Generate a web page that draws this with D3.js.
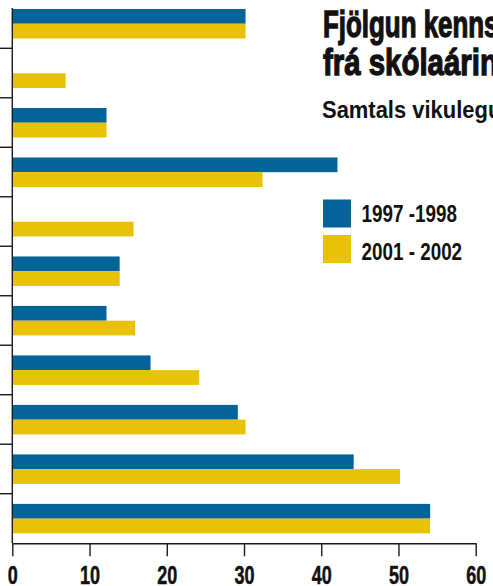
<!DOCTYPE html>
<html>
<head>
<meta charset="utf-8">
<script src="https://cdn.jsdelivr.net/npm/d3@7"></script>
<style>
  html, body { margin: 0; padding: 0; background: #fff; overflow: hidden; }
  svg { display: block; }
  text { font-family: "Liberation Sans", Arial, sans-serif; font-weight: bold; fill: #111; }
</style>
</head>
<body>
<div id="chart"></div>
<script>
/* data (category names are cut off in the original) */
var categories = ["1", "2", "3", "4", "5", "6", "7", "8", "9", "10", "11"];
var values_9798 = [30.2, null, 12.2, 42.1, null, 13.9, 12.2, 17.9, 29.2, 44.2, 54.1];
var values_0102 = [30.2, 6.9, 12.2, 32.4, 15.7, 13.9, 15.9, 24.2, 30.2, 50.2, 54.1];
var series_names = ["1997 -1998", "2001 - 2002"];
var x_ticks = [0, 10, 20, 30, 40, 50, 60];

var W = 493, H = 586;
var blue = "#04649a", yellow = "#e8c207";

var svg = d3.select("#chart").append("svg")
	.attr("width", W)
	.attr("height", H);

var x = d3.scaleLinear().domain([0, 60]).range([12.3, 475.7]);
var y = d3.scaleBand().domain(categories).range([-1.2, 543.2]).padding(0);
var bw = y.bandwidth();
var ySub = d3.scaleBand().domain(["a", "b"]).range([bw * 0.206, bw * 0.802]).padding(0);

/* rows: one entry per category and series */
var rows = [];
for (var i = 0; i < categories.length; i++) {
	if (values_9798[i] != null) rows.push({cat: categories[i], s: "a", v: values_9798[i]});
	if (values_0102[i] != null) rows.push({cat: categories[i], s: "b", v: values_0102[i]});
}

svg.selectAll("rect.bar")
	.data(rows)
	.enter()
	.append("rect")
	.attr("class", "bar")
	.attr("x", x(0))
	.attr("y", function(d) { return y(d.cat) + ySub(d.s); })
	.attr("width", function(d) { return x(d.v) - x(0); })
	.attr("height", ySub.bandwidth())
	.attr("fill", function(d) { return d.s == "a" ? blue : yellow; });

/* left axis line with separators between categories */
svg.append("line")
	.attr("x1", x(0)).attr("x2", x(0))
	.attr("y1", 8).attr("y2", 543.3)
	.attr("stroke", "#1a1a1a").attr("stroke-width", 1.4);

svg.selectAll("line.sep")
	.data(categories.slice(1))
	.enter()
	.append("line")
	.attr("class", "sep")
	.attr("x1", 0).attr("x2", x(0))
	.attr("y1", function(d) { return y(d); })
	.attr("y2", function(d) { return y(d); })
	.attr("stroke", "#1a1a1a").attr("stroke-width", 1.4);

/* bottom axis */
var xAxis = svg.append("g")
	.attr("transform", "translate(0,543.3)")
	.call(d3.axisBottom(x).tickValues(x_ticks).tickSize(13).tickSizeOuter(0));
xAxis.select(".domain").attr("stroke", "#1a1a1a").attr("stroke-width", 1.4);
xAxis.selectAll(".tick line").attr("stroke", "#1a1a1a").attr("stroke-width", 1.4);
xAxis.selectAll(".tick text")
	.attr("y", 41.2)
	.attr("dy", 0)
	.attr("transform", "scale(0.72,1)")
	.style("font-size", "25px")
	.style("font-family", "'Liberation Sans', Arial, sans-serif")
	.style("font-weight", "bold")
	.attr("fill", "#111")
	.attr("stroke", "#111").attr("stroke-width", 0.5);

/* title (clipped at the right edge as in the original) */
svg.append("text")
	.attr("transform", "translate(323,36.5) scale(0.70,1)")
	.style("font-size", "37px")
	.attr("stroke", "#111").attr("stroke-width", 1.3)
	.text("Fjölgun kennslustunda");
svg.append("text")
	.attr("transform", "translate(323,74.5) scale(0.795,1)")
	.style("font-size", "37px")
	.attr("stroke", "#111").attr("stroke-width", 1.3)
	.text("frá skólaárinu 1997-1998");
svg.append("text")
	.attr("transform", "translate(322,118.3) scale(0.955,1)")
	.style("font-size", "23px")
	.text("Samtals vikulegur kennslustundafjöldi");

/* legend */
var legend = svg.selectAll("g.legend")
	.data(series_names)
	.enter()
	.append("g")
	.attr("class", "legend")
	.attr("transform", function(d, i) { return "translate(323," + (199.5 + i * 35.5) + ")"; });
legend.append("rect")
	.attr("width", 28).attr("height", 28)
	.attr("fill", function(d, i) { return i == 0 ? blue : yellow; });
legend.append("text")
	.attr("transform", function(d, i) { return "translate(38.5," + (i == 0 ? 22.3 : 24.5) + ") scale(0.82,1)"; })
	.style("font-size", "23px")
	.text(function(d) { return d; });
</script>
</body>
</html>
